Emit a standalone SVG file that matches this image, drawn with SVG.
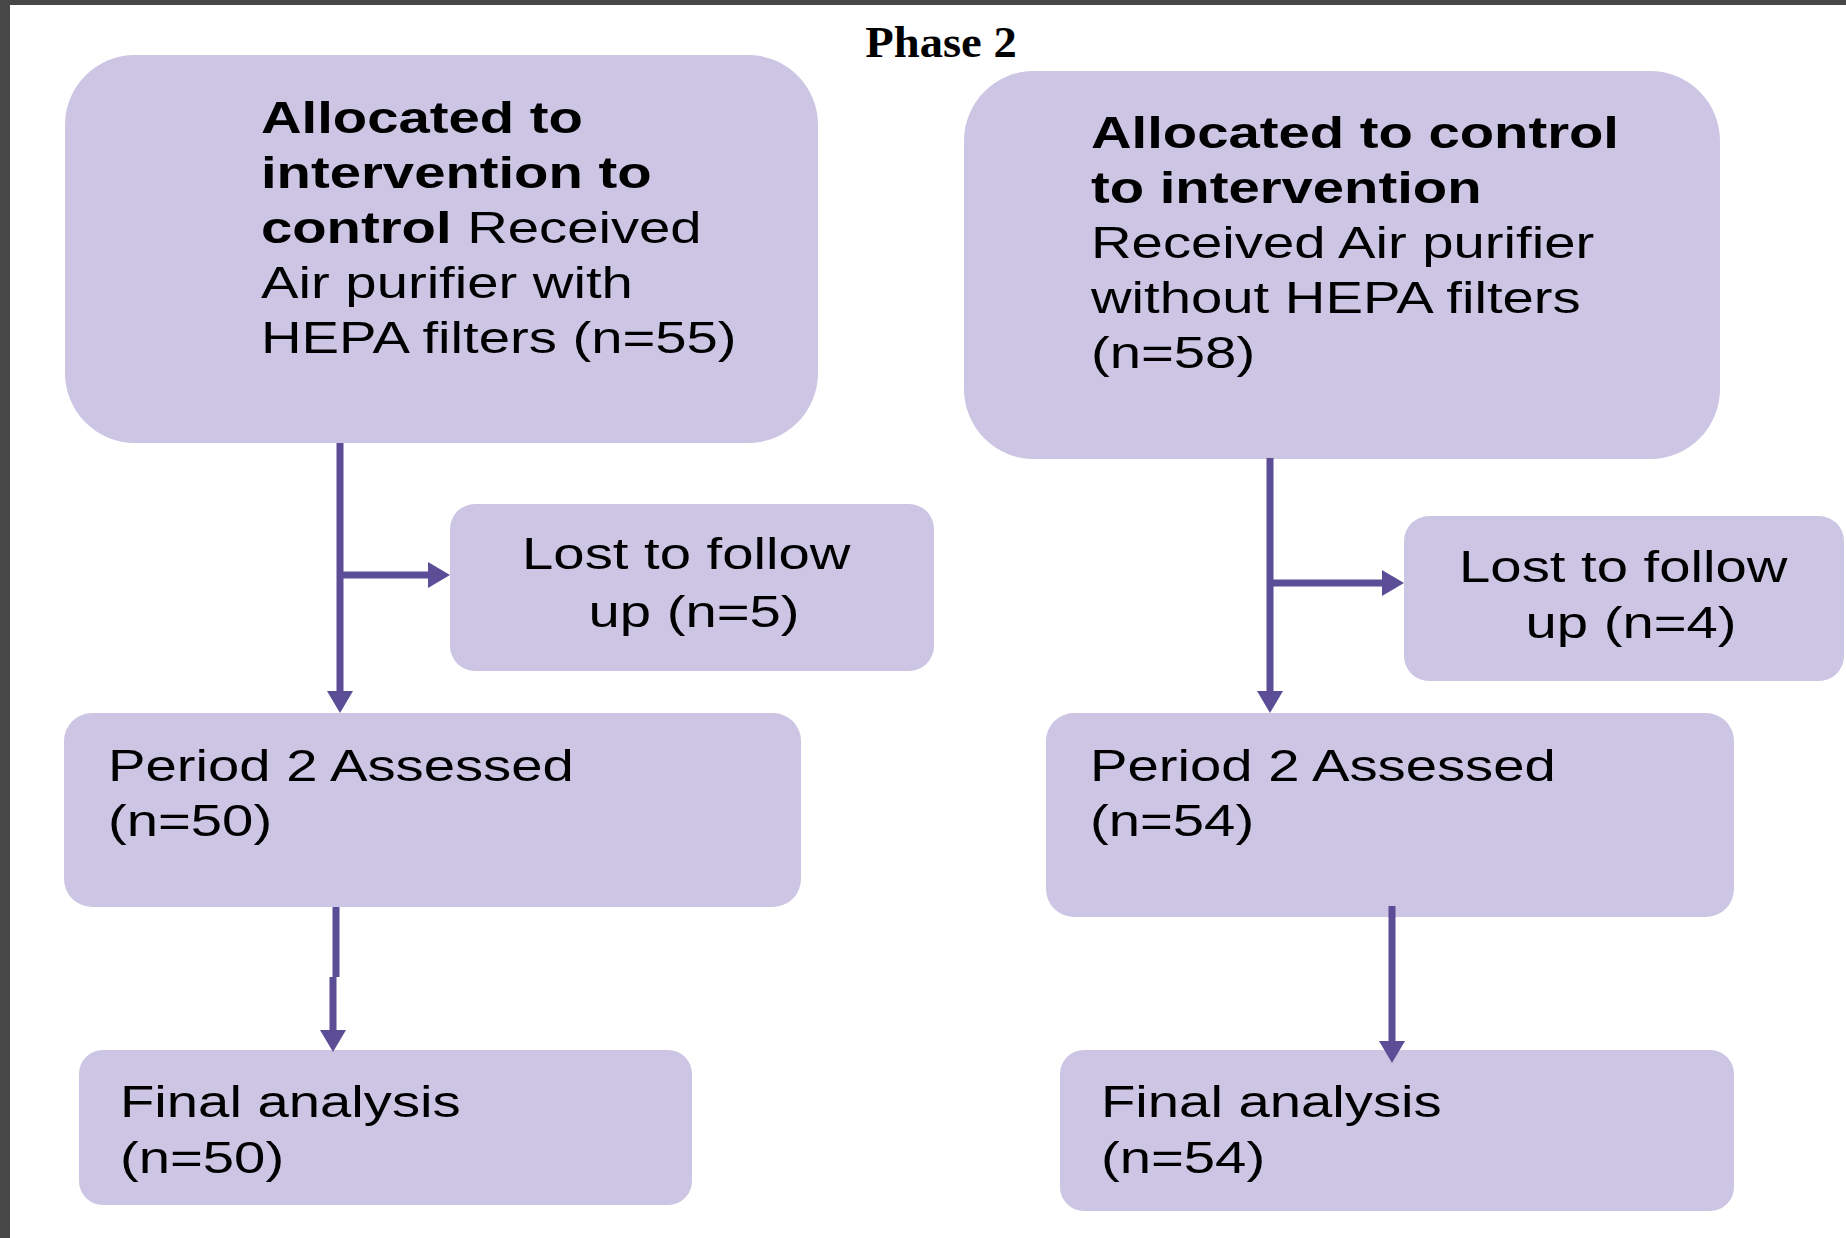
<svg xmlns="http://www.w3.org/2000/svg" width="1846" height="1238" viewBox="0 0 1846 1238">
<style>
.box{fill:#ccc5e4;}
.t{font-family:"Liberation Sans",Arial,sans-serif;font-size:45px;fill:#000;}
.b{font-weight:bold;}
.title{font-family:"Liberation Serif","Times New Roman",serif;font-size:44px;font-weight:bold;fill:#000;}
.conn{stroke:#5b4d96;stroke-width:7;fill:none;marker-end:url(#arr);}
</style>
<defs>
<marker id="arr" markerUnits="userSpaceOnUse" markerWidth="22" markerHeight="26" refX="0" refY="13" orient="auto">
<path d="M0,0 L22,13 L0,26 z" fill="#5b4d96"/>
</marker>
</defs>
<rect x="0" y="0" width="1846" height="1238" fill="#ffffff"/>
<rect x="0" y="0" width="1846" height="5" fill="#474747"/>
<rect x="0" y="0" width="10" height="1238" fill="#474747"/>
<g id="title">
<text class="title" text-anchor="middle" transform="translate(941,57) scale(1.06,1)">Phase 2</text>
</g>
<g id="node-alloc-left">
<rect class="box" x="65" y="55" width="753" height="388" rx="70" ry="70"/>
<text class="t" transform="translate(261,0) scale(1.25,1)">
<tspan class="b" x="0" y="133">Allocated to</tspan>
<tspan class="b" x="0" y="188">intervention to</tspan>
<tspan x="0" y="243"><tspan class="b">control</tspan> Received</tspan>
<tspan x="0" y="298">Air purifier with</tspan>
<tspan x="0" y="353">HEPA filters (n=55)</tspan>
</text>
</g>
<g id="node-alloc-right">
<rect class="box" x="964" y="71" width="756" height="388" rx="70" ry="70"/>
<text class="t" transform="translate(1091,0) scale(1.25,1)">
<tspan class="b" x="0" y="148">Allocated to control</tspan>
<tspan class="b" x="0" y="203">to intervention</tspan>
<tspan x="0" y="258">Received Air purifier</tspan>
<tspan x="0" y="313">without HEPA filters</tspan>
<tspan x="0" y="368">(n=58)</tspan>
</text>
</g>
<g id="node-lost-left">
<rect class="box" x="450" y="504" width="484" height="167" rx="25" ry="25"/>
<text class="t" text-anchor="middle" transform="translate(694,0) scale(1.25,1)">
<tspan x="0" y="569">Lost to follow</tspan>
<tspan x="0" y="627">up (n=5)</tspan>
</text>
</g>
<g id="node-lost-right">
<rect class="box" x="1404" y="516" width="440" height="165" rx="25" ry="25"/>
<text class="t" text-anchor="middle" transform="translate(1631,0) scale(1.25,1)">
<tspan x="0" y="582">Lost to follow</tspan>
<tspan x="0" y="638">up (n=4)</tspan>
</text>
</g>
<g id="node-period-left">
<rect class="box" x="64" y="713" width="737" height="194" rx="28" ry="28"/>
<text class="t" transform="translate(108,0) scale(1.25,1)">
<tspan x="0" y="781">Period 2 Assessed</tspan>
<tspan x="0" y="836">(n=50)</tspan>
</text>
</g>
<g id="node-period-right">
<rect class="box" x="1046" y="713" width="688" height="204" rx="28" ry="28"/>
<text class="t" transform="translate(1090,0) scale(1.25,1)">
<tspan x="0" y="781">Period 2 Assessed</tspan>
<tspan x="0" y="836">(n=54)</tspan>
</text>
</g>
<g id="node-final-left">
<rect class="box" x="79" y="1050" width="613" height="155" rx="24" ry="24"/>
<text class="t" transform="translate(120,0) scale(1.25,1)">
<tspan x="0" y="1117">Final analysis</tspan>
<tspan x="0" y="1173">(n=50)</tspan>
</text>
</g>
<g id="node-final-right">
<rect class="box" x="1060" y="1050" width="674" height="161" rx="24" ry="24"/>
<text class="t" transform="translate(1101,0) scale(1.25,1)">
<tspan x="0" y="1117">Final analysis</tspan>
<tspan x="0" y="1173">(n=54)</tspan>
</text>
</g>
<g id="connectors">
<path class="conn" d="M340,443 V691"/>
<path class="conn" d="M340,575 H428"/>
<path class="conn" d="M336,907 V977 M333,977 V1030"/>
<path class="conn" d="M1270,458 V691"/>
<path class="conn" d="M1270,583 H1382"/>
<path class="conn" d="M1392,906 V1041"/>
</g>
</svg>
